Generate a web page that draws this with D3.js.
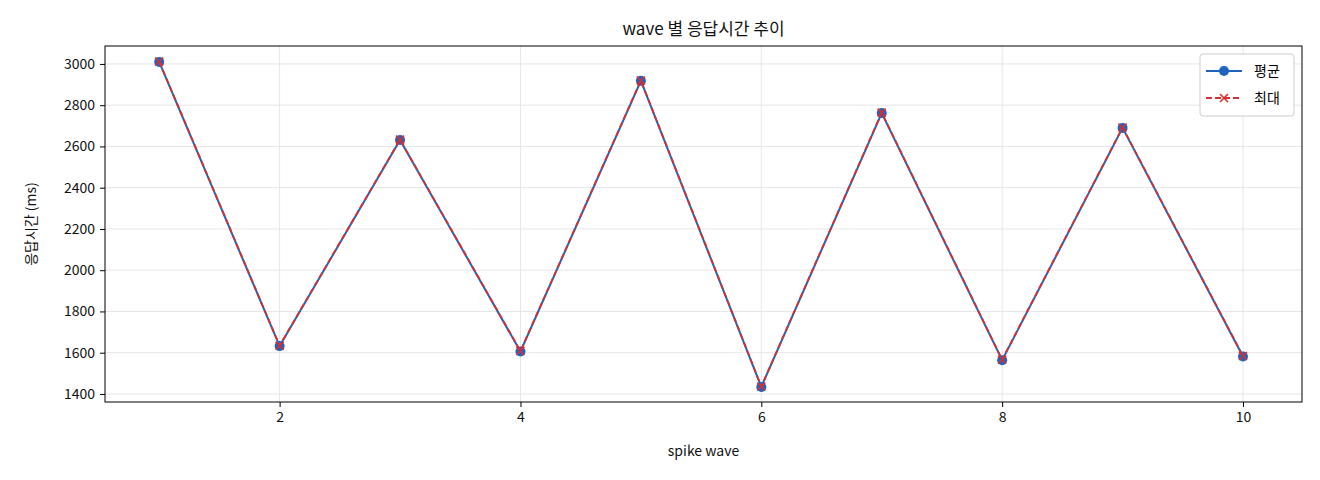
<!DOCTYPE html>
<html><head><meta charset="utf-8">
<script src="https://cdn.jsdelivr.net/npm/d3@7"></script>
<style>body{margin:0;background:#fff;} svg, svg text{font-family:"Noto Sans CJK KR","DejaVu Sans",sans-serif;}</style>
</head><body><svg id="chart"></svg>
<script>
const waves = [1, 2, 3, 4, 5, 6, 7, 8, 9, 10];
const avgMs = [3010, 1632, 2631, 1606, 2918, 1434, 2762, 1564, 2690, 1582];
const maxMs = [3012, 1634, 2633, 1608, 2920, 1436, 2764, 1566, 2692, 1584];
const yTicks = [1400, 1600, 1800, 2000, 2200, 2400, 2600, 2800, 3000];
const xTicks = [2, 4, 6, 8, 10];

const width = 1320, height = 480;
const marginTop = 46, marginRight = 18, marginBottom = 78, marginLeft = 105;

const x = d3.scaleLinear().domain([0.55, 10.49]).range([marginLeft, width - marginRight]);
const y = d3.scaleLinear().domain([1361, 3087]).range([height - marginBottom, marginTop]);

const svg = d3.select("#chart").attr("width", width).attr("height", height);

// grid
svg.append("g").selectAll("line").data(yTicks).join("line")
  .attr("x1", marginLeft).attr("x2", width - marginRight)
  .attr("y1", d => y(d)).attr("y2", d => y(d))
  .attr("stroke", "#e6e6e6");
svg.append("g").selectAll("line").data(xTicks).join("line")
  .attr("y1", marginTop).attr("y2", height - marginBottom)
  .attr("x1", d => x(d)).attr("x2", d => x(d))
  .attr("stroke", "#e6e6e6");

svg.append("g")
  .attr("transform", `translate(0,${height - marginBottom})`)
  .call(d3.axisBottom(x).tickValues(xTicks).tickFormat(d3.format("d")).tickSize(5).tickPadding(5))
  .call(g => g.select(".domain").remove())
  .call(g => g.selectAll("text").attr("font-size", 14).attr("fill", "#111"));
svg.append("g")
  .attr("transform", `translate(${marginLeft},0)`)
  .call(d3.axisLeft(y).tickValues(yTicks).tickFormat(d3.format("d")).tickSize(5).tickPadding(5))
  .call(g => g.select(".domain").remove())
  .call(g => g.selectAll("text").attr("font-size", 14).attr("fill", "#111"));

svg.append("rect")
  .attr("x", marginLeft).attr("y", marginTop)
  .attr("width", width - marginLeft - marginRight)
  .attr("height", height - marginTop - marginBottom)
  .attr("fill", "none").attr("stroke", "#000");

const line = d3.line().x((d, i) => x(waves[i])).y(d => y(d));

svg.append("path").attr("fill", "none").attr("stroke", "#1f65c0").attr("stroke-width", 2)
  .attr("d", line(avgMs));
svg.append("g").selectAll("circle").data(avgMs).join("circle")
  .attr("cx", (d, i) => x(waves[i])).attr("cy", d => y(d)).attr("r", 5)
  .attr("fill", "#1f65c0");

svg.append("path").attr("fill", "none").attr("stroke", "#d62f2f").attr("stroke-width", 1.8)
  .attr("stroke-dasharray", "6,3").attr("d", line(maxMs));
const xs = svg.append("g").attr("stroke", "#d62f2f").attr("stroke-width", 1.6);
maxMs.forEach((d, i) => {
  const cx = x(waves[i]), cy = y(d), s = 4;
  xs.append("path").attr("d", `M${cx-s},${cy-s}L${cx+s},${cy+s}M${cx-s},${cy+s}L${cx+s},${cy-s}`);
});

svg.append("text").attr("x", (marginLeft + width - marginRight) / 2).attr("y", 35)
  .attr("text-anchor", "middle").attr("font-size", 17).attr("fill", "#111").text("wave 별 응답시간 추이");
svg.append("text").attr("x", (marginLeft + width - marginRight) / 2).attr("y", 456)
  .attr("text-anchor", "middle").attr("font-size", 14).attr("fill", "#111").text("spike wave");
svg.append("text").attr("transform", `translate(36,${(marginTop + height - marginBottom) / 2}) rotate(-90)`)
  .attr("text-anchor", "middle").attr("font-size", 14).attr("fill", "#111").text("응답시간 (ms)");

// legend
const lg = svg.append("g").attr("transform", "translate(1200,54)");
lg.append("rect").attr("width", 94).attr("height", 62).attr("rx", 3)
  .attr("fill", "#fff").attr("stroke", "#ccc");
lg.append("line").attr("x1", 6).attr("x2", 42).attr("y1", 17).attr("y2", 17).attr("stroke", "#1f65c0").attr("stroke-width", 2);
lg.append("circle").attr("cx", 24).attr("cy", 17).attr("r", 5).attr("fill", "#1f65c0");
lg.append("text").attr("x", 54).attr("y", 22).attr("font-size", 14).text("평균");
lg.append("line").attr("x1", 6).attr("x2", 42).attr("y1", 44).attr("y2", 44).attr("stroke", "#d62f2f")
  .attr("stroke-width", 1.8).attr("stroke-dasharray", "6,3");
lg.append("path").attr("d", "M20,40L28,48M20,48L28,40").attr("stroke", "#d62f2f").attr("stroke-width", 1.6);
lg.append("text").attr("x", 54).attr("y", 49).attr("font-size", 14).text("최대");
</script></body></html>
